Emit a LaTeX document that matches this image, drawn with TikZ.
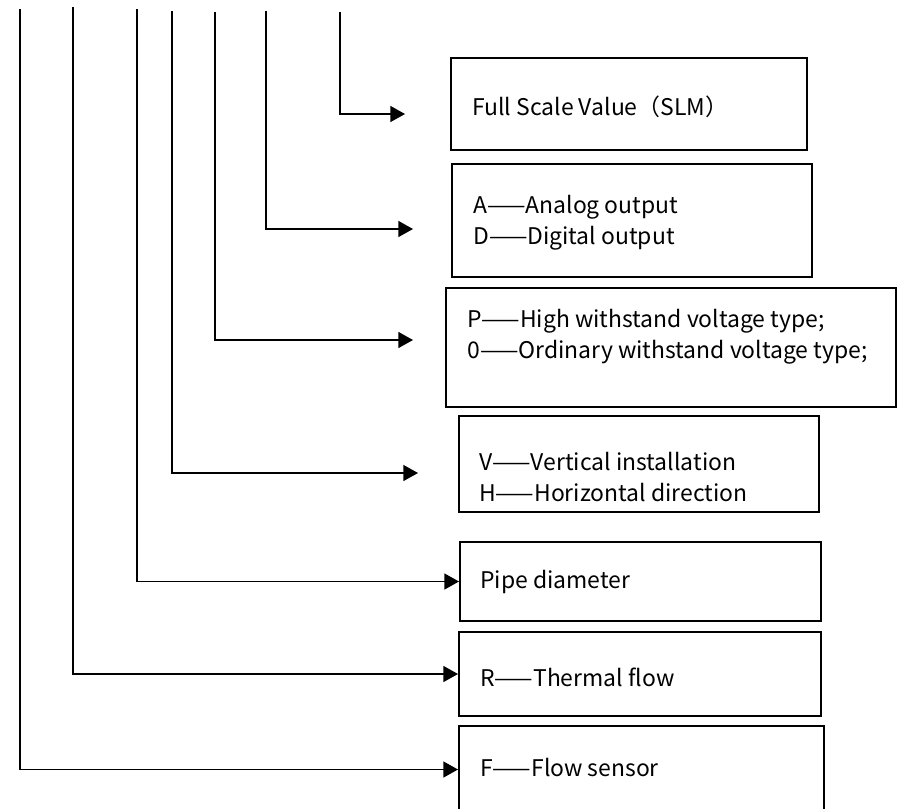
\documentclass[tikz,border=0pt]{standalone}
\usepackage{fontspec}
\setmainfont{Noto Sans CJK SC}[Ligatures=NoCommon]
\newfontfamily\cjk{Noto Sans CJK SC}
\usetikzlibrary{arrows.meta}
\newcommand{\dd}{{\cjk ——}}
\begin{document}
\begin{tikzpicture}[x=0.75pt,y=-0.75pt,
  box/.style={draw, line width=1.5pt, inner sep=0pt, anchor=north west},
  conn/.style={line width=1pt, -{Triangle[length=11pt,width=12pt]}},
  txt/.style={anchor=west, align=left, inner sep=0pt, font=\fontsize{17.2}{23}\selectfont}]
\useasboundingbox (0,0) rectangle (899,808);
% boxes
\node[box, minimum width=356*0.75pt, minimum height=92*0.75pt] (b1) at (450,57) {};
\node[box, minimum width=360*0.75pt, minimum height=113*0.75pt] (b2) at (451,163) {};
\node[box, minimum width=450*0.75pt, minimum height=119*0.75pt] (b3) at (445,287) {};
\node[box, minimum width=360*0.75pt, minimum height=96*0.75pt] (b4) at (458,415) {};
\node[box, minimum width=361*0.75pt, minimum height=79*0.75pt] (b5) at (459,541) {};
\node[box, minimum width=362*0.75pt, minimum height=84*0.75pt] (b6) at (458,631) {};
\node[box, minimum width=365*0.75pt, minimum height=87*0.75pt] (b7) at (458,725) {};
% texts
\node[txt] (t1) at (472,107) {Full Scale Value{\cjk （}SLM{\cjk ）}};
\node[txt] (t2) at (473,223) {A\dd Analog output\\D\dd Digital output};
\node[txt] (t3) at (467,337) {P\dd High withstand voltage type;\\0\dd Ordinary withstand voltage type;};
\node[txt] (t4) at (479,477) {V\dd Vertical installation\\H\dd Horizontal direction};
\node[txt] (t5) at (480,582) {Pipe diameter};
\node[txt] (t6) at (480,677) {R\dd Thermal flow};
\node[txt] (t7) at (480,768) {F\dd Flow sensor};
% connector start points (top ends)
\coordinate (s1) at (340,12);
\coordinate (s2) at (266,11);
\coordinate (s3) at (215,12);
\coordinate (s4) at (172,11);
\coordinate (s5) at (137,9);
\coordinate (s6) at (73,7);
\coordinate (s7) at (20,9);
% free arrow tips
\coordinate (e1) at (405,114);
\coordinate (e2) at (413,229);
\coordinate (e3) at (413,340);
\coordinate (e4) at (418,473);
% connectors
\draw[conn] (s1) |- (e1);
\draw[conn] (s2) |- (e2);
\draw[conn] (s3) |- (e3);
\draw[conn] (s4) |- (e4);
\draw[conn] (s5) |- (b5.west);
\draw[conn] (s6) |- (b6.west);
\draw[conn] (s7) |- (b7.west);
\end{tikzpicture}
\end{document}
